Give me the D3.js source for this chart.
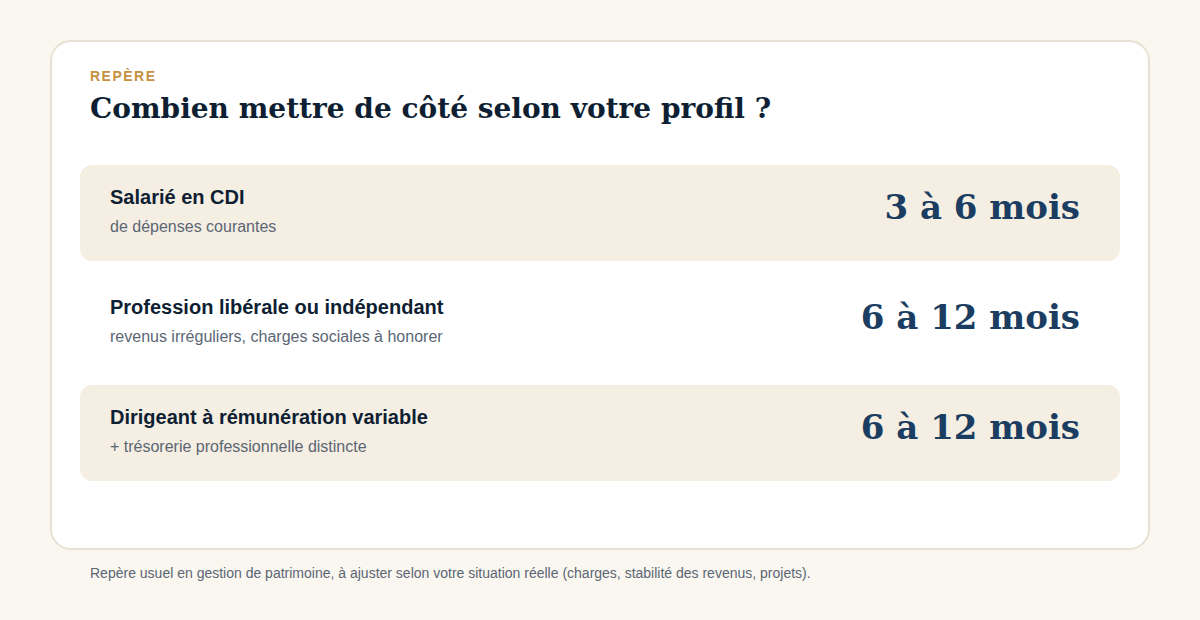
<!DOCTYPE html>
<html><head><meta charset="utf-8">
<script src="https://cdn.jsdelivr.net/npm/d3@7"></script>
<style>body{margin:0;background:#faf7f0}</style></head>
<body><svg id="c" width="1200" height="620"></svg>
<script>
const profiles = ["Salarié en CDI","Profession libérale ou indépendant","Dirigeant à rémunération variable"];
const descriptions = ["de dépenses courantes","revenus irréguliers, charges sociales à honorer","+ trésorerie professionnelle distincte"];
const ranges = ["3 à 6 mois","6 à 12 mois","6 à 12 mois"];
const eyebrow = "REPÈRE";
const title = "Combien mettre de côté selon votre profil ?";
const footnote = "Repère usuel en gestion de patrimoine, à ajuster selon votre situation réelle (charges, stabilité des revenus, projets).";

const svg = d3.select("#c");
const sans = "'Liberation Sans', Arial, sans-serif", serif = "'DejaVu Serif', serif";
svg.append("rect").attr("width",1200).attr("height",620).attr("fill","#faf7f0");
svg.append("rect").attr("x",51).attr("y",41).attr("width",1098).attr("height",508).attr("rx",20)
  .attr("fill","#fff").attr("stroke","#e8e1d3").attr("stroke-width",2);
svg.append("text").attr("x",90).attr("y",81).text(eyebrow).attr("font-family",sans).attr("font-weight","bold")
  .attr("font-size",14).attr("letter-spacing",1.5).attr("fill","#c4913f");
svg.append("text").attr("x",90).attr("y",118).text(title).attr("font-family",serif).attr("font-weight","bold")
  .attr("font-size",28).attr("fill","#0f1f33");

const y = d3.scaleBand().domain(d3.range(profiles.length)).range([165,481]).paddingInner(14/110);
const g = svg.selectAll("g.row").data(profiles).join("g").attr("transform",(d,i)=>`translate(0,${y(i)})`);
g.append("rect").attr("x",80).attr("width",1040).attr("height",y.bandwidth()).attr("rx",12)
  .attr("fill",(d,i)=>i%2===0?"#f5eee2":"none");
g.append("text").attr("x",110).attr("y",39).text(d=>d).attr("font-family",sans).attr("font-weight","bold")
  .attr("font-size",20).attr("fill","#0f1f33");
g.append("text").attr("x",110).attr("y",67).text((d,i)=>descriptions[i]).attr("font-family",sans)
  .attr("font-size",16).attr("fill","#5b6674");
g.append("text").attr("x",1080).attr("y",54).attr("text-anchor","end").text((d,i)=>ranges[i])
  .attr("font-family",serif).attr("font-weight","bold").attr("font-size",34).attr("fill","#1b3d61");
svg.append("text").attr("x",90).attr("y",578).text(footnote).attr("font-family",sans)
  .attr("font-size",14).attr("fill","#5b6674");
</script></body></html>
